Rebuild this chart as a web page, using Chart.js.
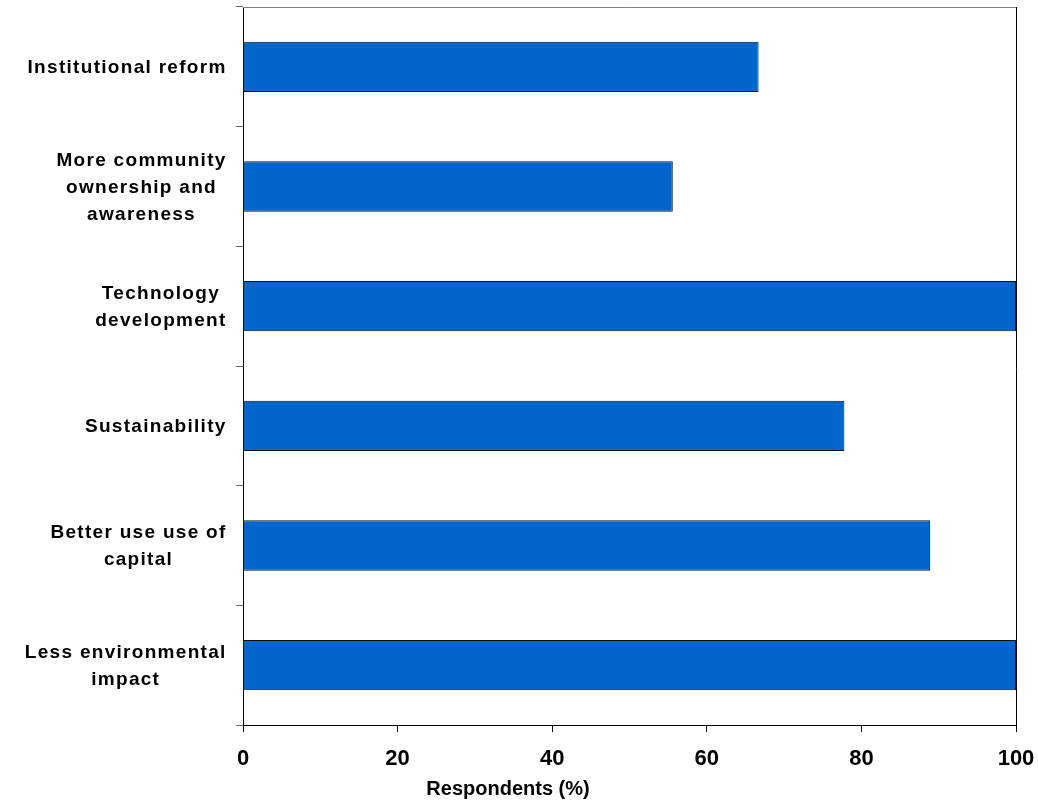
<!DOCTYPE html>
<html>
<head>
<meta charset="utf-8">
<script src="https://cdn.jsdelivr.net/npm/chart.js@4/dist/chart.umd.min.js"></script>
<style>
  html, body { margin: 0; padding: 0; background: #fff; }
  #wrap { width: 1038px; height: 812px; }
</style>
</head>
<body>
<div id="wrap"><canvas id="chart"></canvas></div>
<script>
// category labels, one array of lines per bar (top to bottom)
const categories = [
    ['Institutional reform'],
    ['More community', 'ownership and', 'awareness'],
    ['Technology', 'development'],
    ['Sustainability'],
    ['Better use use of', 'capital'],
    ['Less environmental', 'impact']
];
const respondents = [66.7, 55.6, 100, 77.8, 88.9, 100];
const xTickValues = [0, 20, 40, 60, 80, 100];

// labels drawn as centred blocks, right aligned next to the axis (like Excel)
const catLabels = {
    id: 'catLabels',
    afterDraw(chart) {
        const ctx = chart.ctx;
        const yScale = chart.scales.y;
        const right = chart.chartArea.left - 17;
        ctx.save();
        ctx.font = 'bold 19px "Liberation Sans", Arial, sans-serif';
        ctx.letterSpacing = '1.3px';
        ctx.fillStyle = '#000';
        ctx.textAlign = 'center';
        ctx.textBaseline = 'middle';
        categories.forEach(function (lines, i) {
            const maxW = Math.max.apply(null, lines.map(l => ctx.measureText(l).width));
            const cx = right - maxW / 2;
            const cy = yScale.getPixelForValue(i) + 1;
            lines.forEach(function (line, j) {
                ctx.fillText(line, cx + 0.65, cy + (j - (lines.length - 1) / 2) * 27);
            });
        });
        ctx.restore();
    }
};

// top and right edges of the plot frame
const frame = {
    id: 'frame',
    afterDraw(chart) {
        const a = chart.chartArea;
        const ctx = chart.ctx;
        ctx.save();
        ctx.lineWidth = 1;
        ctx.strokeStyle = '#808080';
        ctx.beginPath();
        ctx.moveTo(a.left, Math.round(a.top) + 0.5);
        ctx.lineTo(a.right, Math.round(a.top) + 0.5);
        ctx.stroke();
        ctx.strokeStyle = '#000';
        ctx.beginPath();
        ctx.moveTo(Math.round(a.right) + 0.5, a.top);
        ctx.lineTo(Math.round(a.right) + 0.5, a.bottom + 7);
        ctx.stroke();
        ctx.restore();
    }
};

var ctx = document.getElementById('chart').getContext('2d');
var barChart = new Chart(ctx, {
    type: 'bar',
    data: {
        labels: categories.map(c => c.join(' ')),
        datasets: [{
            data: respondents,
            backgroundColor: '#0066CC',
            borderColor: '#111',
            borderWidth: 1,
            categoryPercentage: 1,
            barPercentage: 0.42
        }]
    },
    options: {
        indexAxis: 'y',
        responsive: true,
        maintainAspectRatio: false,
        animation: false,
        layout: {
            padding: { left: 0, right: 22, top: 7, bottom: 0 }
        },
        plugins: {
            legend: { display: false },
            tooltip: { enabled: false },
            title: {
                display: true,
                position: 'bottom',
                text: 'Respondents (%)',
                color: '#000',
                font: { family: '"Liberation Sans", Arial, sans-serif', size: 20, weight: 'bold' },
                padding: { top: 2, bottom: 11 }
            }
        },
        scales: {
            x: {
                min: 0,
                max: 100,
                afterBuildTicks: function (scale) {
                    scale.ticks = xTickValues.map(v => ({ value: v }));
                },
                ticks: {
                    color: '#000',
                    padding: 14,
                    font: { family: '"Liberation Sans", Arial, sans-serif', size: 22, weight: 'bold' }
                },
                grid: {
                    drawOnChartArea: false,
                    tickLength: 7,
                    tickColor: '#000'
                },
                border: { color: '#000', width: 1 },
                afterFit: function (scale) {
                    scale.height = 50;
                    scale.paddingLeft = 0;
                    scale.paddingRight = 0;
                }
            },
            y: {
                ticks: { display: false },
                grid: {
                    drawOnChartArea: false,
                    offset: true,
                    tickLength: 7,
                    tickColor: '#666'
                },
                border: { color: '#000', width: 1 },
                afterFit: function (scale) {
                    scale.width = 243;
                    scale.paddingTop = 0;
                    scale.paddingBottom = 0;
                }
            }
        }
    },
    plugins: [catLabels, frame]
});
</script>
</body>
</html>
